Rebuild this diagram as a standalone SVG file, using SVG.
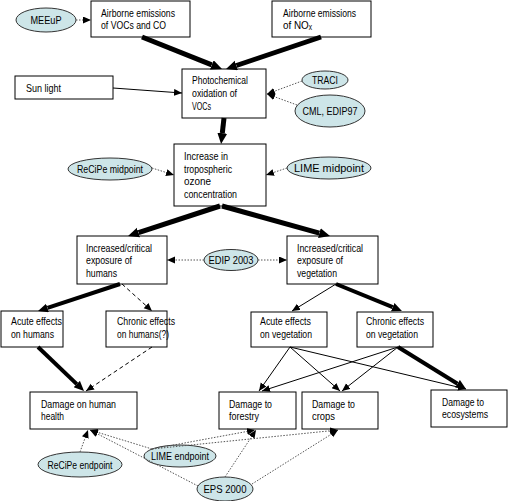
<svg xmlns="http://www.w3.org/2000/svg" width="508" height="501" viewBox="0 0 508 501">
<defs>
<style>
.box{fill:#fff;stroke:#000;stroke-width:1}
.ell{fill:#CDE5E8;stroke:#333;stroke-width:1}
text{font-family:"Liberation Sans","DejaVu Sans",Arial,sans-serif;font-size:11px;fill:#000}
.c{text-anchor:middle}
.thick{stroke:#000;stroke-width:5;fill:none;marker-end:url(#hT)}
.med{stroke:#000;stroke-width:4;fill:none;marker-end:url(#hM)}
.thin{stroke:#000;stroke-width:1;fill:none;marker-end:url(#hS)}
.dash{stroke:#000;stroke-width:1;stroke-dasharray:4,3;fill:none;marker-end:url(#hS)}
.dot{stroke:#555;stroke-width:1;stroke-dasharray:1.5,1.5;fill:none;marker-end:url(#hS)}
</style>
<marker id="hT" markerUnits="userSpaceOnUse" markerWidth="12" markerHeight="11" refX="0" refY="5" orient="auto"><path d="M0,0 L11,5 L0,10 z" fill="#000"/></marker>
<marker id="hM" markerUnits="userSpaceOnUse" markerWidth="11" markerHeight="10" refX="0" refY="4.5" orient="auto"><path d="M0,0 L10,4.5 L0,9 z" fill="#000"/></marker>
<marker id="hS" markerUnits="userSpaceOnUse" markerWidth="9" markerHeight="8" refX="8" refY="3.5" orient="auto"><path d="M0,0 L8,3.5 L0,7 z" fill="#000"/></marker>
</defs>
<rect width="508" height="501" fill="#fff"/>

<g id="voc"><rect class="box" x="91" y="1" width="99" height="36"/><text x="101" y="17" textLength="74" lengthAdjust="spacingAndGlyphs">Airborne emissions</text><text x="101" y="29" textLength="65" lengthAdjust="spacingAndGlyphs">of VOCs and CO</text></g>
<g id="nox"><rect class="box" x="272" y="1" width="99" height="36"/><text x="283" y="17" textLength="73" lengthAdjust="spacingAndGlyphs">Airborne emissions</text><text x="283" y="29" textLength="29" lengthAdjust="spacingAndGlyphs">of NOₓ</text></g>
<g id="meeup"><ellipse class="ell" cx="46" cy="20" rx="30" ry="12"/><text class="c" x="46" y="24" textLength="31" lengthAdjust="spacingAndGlyphs">MEEuP</text></g>
<g id="sun"><rect class="box" x="15" y="76" width="98" height="23"/><text x="26" y="92" textLength="35" lengthAdjust="spacingAndGlyphs">Sun light</text></g>
<g id="photo"><rect class="box" x="182" y="69" width="84" height="49"/><text x="192" y="84" textLength="56" lengthAdjust="spacingAndGlyphs">Photochemical</text><text x="192" y="97" textLength="45" lengthAdjust="spacingAndGlyphs">oxidation of</text><text x="192" y="110" textLength="19" lengthAdjust="spacingAndGlyphs">VOCs</text></g>
<g id="traci"><ellipse class="ell" cx="325" cy="80" rx="23" ry="9"/><text class="c" x="325" y="84" textLength="26" lengthAdjust="spacingAndGlyphs">TRACI</text></g>
<g id="cml"><ellipse class="ell" cx="330" cy="111" rx="35" ry="16"/><text class="c" x="330" y="115" textLength="55" lengthAdjust="spacingAndGlyphs">CML, EDIP97</text></g>
<g id="ozone"><rect class="box" x="174" y="144" width="92" height="62"/><text x="184" y="160" textLength="44" lengthAdjust="spacingAndGlyphs">Increase in</text><text x="184" y="173" textLength="48" lengthAdjust="spacingAndGlyphs">tropospheric</text><text x="184" y="185" textLength="27" lengthAdjust="spacingAndGlyphs">ozone</text><text x="184" y="198" textLength="53" lengthAdjust="spacingAndGlyphs">concentration</text></g>
<g id="recipe-mid"><ellipse class="ell" cx="110" cy="169" rx="42" ry="11"/><text class="c" x="110" y="173" textLength="66" lengthAdjust="spacingAndGlyphs">ReCiPe midpoint</text></g>
<g id="lime-mid"><ellipse class="ell" cx="329" cy="168" rx="42" ry="11"/><text class="c" x="329" y="172" textLength="70" lengthAdjust="spacingAndGlyphs">LIME midpoint</text></g>
<g id="exp-hum"><rect class="box" x="77" y="236" width="90" height="48"/><text x="86" y="252" textLength="66" lengthAdjust="spacingAndGlyphs">Increased/critical</text><text x="86" y="264" textLength="46" lengthAdjust="spacingAndGlyphs">exposure of</text><text x="86" y="277" textLength="31" lengthAdjust="spacingAndGlyphs">humans</text></g>
<g id="exp-veg"><rect class="box" x="287" y="236" width="91" height="48"/><text x="297" y="252" textLength="66" lengthAdjust="spacingAndGlyphs">Increased/critical</text><text x="297" y="264" textLength="46" lengthAdjust="spacingAndGlyphs">exposure of</text><text x="297" y="277" textLength="40" lengthAdjust="spacingAndGlyphs">vegetation</text></g>
<g id="edip2003"><ellipse class="ell" cx="231" cy="260" rx="27" ry="10.5"/><text class="c" x="231" y="264" textLength="45" lengthAdjust="spacingAndGlyphs">EDIP 2003</text></g>
<g id="acute-hum"><rect class="box" x="1" y="311" width="62" height="36"/><text x="11" y="325" textLength="51" lengthAdjust="spacingAndGlyphs">Acute effects</text><text x="11" y="338" textLength="43" lengthAdjust="spacingAndGlyphs">on humans</text></g>
<g id="chronic-hum"><rect class="box" x="106" y="311" width="61" height="36"/><text x="117" y="325" textLength="58" lengthAdjust="spacingAndGlyphs">Chronic effects</text><text x="117" y="338" textLength="52" lengthAdjust="spacingAndGlyphs">on humans(?)</text></g>
<g id="acute-veg"><rect class="box" x="251" y="312" width="76" height="35"/><text x="260" y="325" textLength="51" lengthAdjust="spacingAndGlyphs">Acute effects</text><text x="260" y="338" textLength="52" lengthAdjust="spacingAndGlyphs">on vegetation</text></g>
<g id="chronic-veg"><rect class="box" x="357" y="312" width="76" height="35"/><text x="366" y="325" textLength="58" lengthAdjust="spacingAndGlyphs">Chronic effects</text><text x="366" y="338" textLength="52" lengthAdjust="spacingAndGlyphs">on vegetation</text></g>
<g id="dmg-health"><rect class="box" x="30" y="392" width="107" height="37"/><text x="41" y="408" textLength="75" lengthAdjust="spacingAndGlyphs">Damage on human</text><text x="41" y="420" textLength="23" lengthAdjust="spacingAndGlyphs">health</text></g>
<g id="dmg-forestry"><rect class="box" x="219" y="392" width="77" height="37"/><text x="229" y="408" textLength="43" lengthAdjust="spacingAndGlyphs">Damage to</text><text x="229" y="420" textLength="30" lengthAdjust="spacingAndGlyphs">forestry</text></g>
<g id="dmg-crops"><rect class="box" x="302" y="392" width="76" height="37"/><text x="312" y="408" textLength="43" lengthAdjust="spacingAndGlyphs">Damage to</text><text x="312" y="420" textLength="23" lengthAdjust="spacingAndGlyphs">crops</text></g>
<g id="dmg-eco"><rect class="box" x="431" y="390" width="76" height="37"/><text x="442" y="406" textLength="42" lengthAdjust="spacingAndGlyphs">Damage to</text><text x="442" y="418" textLength="46" lengthAdjust="spacingAndGlyphs">ecosystems</text></g>
<g id="recipe-end"><ellipse class="ell" cx="80" cy="464.5" rx="42" ry="12.5"/><text class="c" x="80" y="469" textLength="65" lengthAdjust="spacingAndGlyphs">ReCiPe endpoint</text></g>
<g id="lime-end"><ellipse class="ell" cx="180" cy="456" rx="36" ry="11"/><text class="c" x="180" y="460" textLength="58" lengthAdjust="spacingAndGlyphs">LIME endpoint</text></g>
<g id="eps"><ellipse class="ell" cx="225" cy="489" rx="28" ry="12"/><text class="c" x="225" y="493" textLength="43" lengthAdjust="spacingAndGlyphs">EPS 2000</text></g>

<g id="connectors">
<line class="thick" x1="142" y1="37" x2="211.8" y2="64.9"/>
<line class="thick" x1="321" y1="37" x2="236.4" y2="65.5"/>
<line class="thick" x1="224" y1="118" x2="222.3" y2="133.1"/>
<line class="thick" x1="220" y1="206" x2="138.5" y2="232.6"/>
<line class="thick" x1="222" y1="206" x2="319.4" y2="233.1"/>
<line class="thin" x1="113" y1="88" x2="182" y2="93"/>
<line class="med" x1="120" y1="284" x2="47.5" y2="307.9"/>
<line class="dash" x1="122" y1="284" x2="152" y2="311"/>
<line class="thin" x1="336" y1="284" x2="292" y2="311"/>
<line class="med" x1="336" y1="284" x2="392.7" y2="307.2"/>
<line class="med" x1="38" y1="347" x2="76.8" y2="384.1"/>
<line class="dash" x1="152" y1="347" x2="86" y2="391"/>
<line class="thin" x1="290" y1="347" x2="259" y2="391"/>
<line class="thin" x1="290" y1="347" x2="340" y2="391"/>
<line class="thin" x1="290" y1="347" x2="466" y2="389"/>
<line class="thin" x1="398" y1="347" x2="262" y2="391"/>
<line class="thin" x1="398" y1="347" x2="342" y2="391"/>
<line class="med" x1="398" y1="347" x2="457.5" y2="383.7"/>
<line class="dot" x1="76" y1="20" x2="91" y2="20"/>
<line class="dot" x1="302" y1="81" x2="267" y2="94"/>
<line class="dot" x1="297" y1="105" x2="267" y2="94"/>
<line class="dot" x1="152" y1="168" x2="174" y2="175"/>
<line class="dot" x1="287" y1="168" x2="266" y2="175"/>
<line class="dot" x1="204" y1="260" x2="167" y2="260"/>
<line class="dot" x1="258" y1="260" x2="287" y2="260"/>
<line class="dot" x1="80" y1="452" x2="88" y2="430"/>
<line class="dot" x1="152" y1="449" x2="90" y2="430"/>
<line class="dot" x1="152" y1="449" x2="255" y2="430"/>
<line class="dot" x1="152" y1="449" x2="338" y2="430"/>
<line class="dot" x1="198" y1="486" x2="90" y2="430"/>
<line class="dot" x1="225" y1="477" x2="256" y2="430"/>
<line class="dot" x1="252" y1="484" x2="338" y2="430"/>
</g>
</svg>
